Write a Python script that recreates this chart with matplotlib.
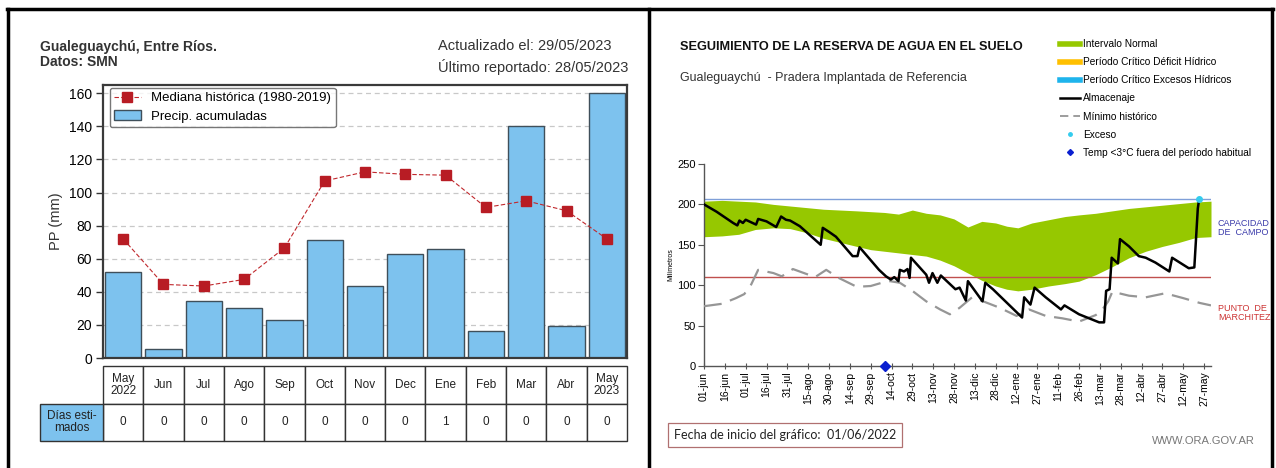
import matplotlib
matplotlib.use("Agg")
import matplotlib.pyplot as plt
from matplotlib.lines import Line2D
from matplotlib.patches import Rectangle

plt.rcParams["font.family"] = ["Liberation Sans", "DejaVu Sans"]

# ---- left panel data (monthly precipitation) ----
months = ["May\n2022", "Jun", "Jul", "Ago", "Sep", "Oct", "Nov", "Dec",
          "Ene", "Feb", "Mar", "Abr", "May\n2023"]
precip = [52, 5.5, 34.5, 30, 23, 71.5, 43.5, 63, 66, 16.5, 140.5, 19.5, 160]
mediana = [72, 44.5, 43.5, 47.5, 66.5, 107, 112.5, 111, 110.5, 91, 95, 89, 72]
dias_est = [0, 0, 0, 0, 0, 0, 0, 0, 1, 0, 0, 0, 0]

# ---- right panel data (soil water reserve, days since 01/06/2022) ----
date_ticks = ["01-jun", "16-jun", "01-jul", "16-jul", "31-jul", "15-ago", "30-ago",
              "14-sep", "29-sep", "14-oct", "29-oct", "13-nov", "28-nov", "13-dic",
              "28-dic", "12-ene", "27-ene", "11-feb", "26-feb", "13-mar", "28-mar",
              "12-abr", "27-abr", "12-may", "27-may"]
band_days = [0, 13, 25, 37, 50, 62, 74, 86, 98, 110, 120, 130, 140, 150, 160, 170, 180,
             190, 200, 210, 218, 226, 236, 248, 260, 270, 282, 294, 306, 318, 330, 342,
             354, 365]
band_high = [204, 205, 204, 203, 200, 198, 196, 194, 193, 192, 191, 190, 188, 193, 189,
             187, 182, 172, 179, 177, 173, 171, 177, 181, 185, 187, 189, 192, 195, 197,
             199, 201, 203, 204]
band_low = [160, 161, 163, 169, 171, 170, 165, 158, 153, 148, 144, 142, 140, 138, 136,
            131, 124, 115, 106, 99, 95, 93, 95, 99, 102, 105, 113, 123, 134, 142, 148,
            153, 159, 160]
min_days = [0, 13, 23, 29, 34, 39, 50, 56, 64, 72, 80, 88, 97, 110, 120, 128, 134, 141,
            150, 160, 170, 177, 184, 193, 201, 213, 225, 234, 246, 258, 270, 282, 286,
            291, 294, 306, 318, 332, 345, 357, 365]
min_hist = [74, 77, 84, 89, 101, 119, 115, 111, 120, 115, 110, 119, 109, 98, 99, 103, 105,
            103, 93, 80, 70, 64, 72, 85, 80, 72, 62, 70, 62, 59, 55, 63, 68, 80, 92, 87,
            85, 90, 84, 78, 75]
alm_days = [0, 9, 21, 24, 25.5, 28, 30, 37.5, 39, 45, 52, 55.5, 59, 62, 69, 84, 85.5, 90,
            95, 107, 110.5, 112, 119, 126, 131, 134.5, 137, 140, 141, 144, 146.5, 148, 149,
            160, 162, 164.5, 168, 170.5, 181, 184, 188.5, 190, 200.5, 202.5, 208, 217, 229,
            230.5, 235, 238, 246, 257, 259.5, 270, 284.5, 288, 289.5, 292, 293.5, 296, 298,
            299.5, 306, 313, 318, 325, 335, 337, 349, 353, 355.5, 356.5]
almacenaje = [200, 191, 177, 174, 180, 177, 181, 175, 182, 179, 172, 185, 181, 180, 173,
              150, 171, 166, 160, 136, 136, 147, 133, 119, 111, 107, 110, 105, 119, 117,
              120, 109, 134, 113, 103, 115, 103, 112, 95, 97, 81, 105, 80, 103, 95, 80, 60,
              85, 76, 97, 85, 70, 75, 64, 54, 54, 93, 95, 134, 130, 127, 157, 148, 136, 134,
              128, 117, 134, 121, 122, 195, 207]
capacidad = 207
marchitez = 110
exceso_day, exceso_val = 356.5, 207
temp_day, temp_val = 130, 0

W, H = 1276, 468
fig = plt.figure(figsize=(W / 100, H / 100), dpi=100)


def fx(px):
    return px / W


def fy(py):
    return 1 - py / H


# panel borders
for x0, x1, y0, y1 in [(7, 1273, 9, 9), (8, 8, 9, 470), (649, 649, 9, 470), (1272, 1272, 9, 470)]:
    fig.add_artist(Line2D([fx(x0), fx(x1)], [fy(y0), fy(y1)], color="black", lw=2.5))

# ================= left panel =================
bar_c = "#7DC2EE"
ax = fig.add_axes([fx(103), fy(358), fx(627) - fx(103), fy(85) - fy(358)])
x = list(range(len(months)))
ax.bar(x, precip, width=0.9, color=bar_c, edgecolor="#3f4f5a", linewidth=1.0, zorder=2,
       label="Precip. acumuladas")
ax.plot(x, mediana, color="#C0282D", ls=(0, (4, 2)), lw=0.8, marker="s", ms=6.5,
        mfc="#B81C24", mec="#B81C24", zorder=3, label="Mediana histórica (1980-2019)")
ax.set_xlim(-0.5, len(months) - 0.5)
ax.set_ylim(0, 165)
ax.set_yticks(range(0, 161, 20))
ax.set_xticks([])
ax.yaxis.grid(True, ls=(0, (4, 3)), color="#c8c8c8", lw=0.9, zorder=0)
ax.set_axisbelow(True)
ax.tick_params(axis="y", labelsize=10, length=5, width=1, color="#333", pad=3)
ax.set_ylabel("PP (mm)", fontsize=10.5, color="#333", labelpad=4)
for s in ax.spines.values():
    s.set_color("#3a3a3a")
    s.set_linewidth(1.6)
ax.legend(loc="upper left", fontsize=9.5, frameon=True, edgecolor="#555",
          fancybox=True, borderpad=0.35, labelspacing=0.45, handlelength=2.0,
          bbox_to_anchor=(0.0, 1.015))

fig.text(fx(40), fy(47), "Gualeguaychú, Entre Ríos.", fontsize=10, weight="bold",
         color="#333", va="center")
fig.text(fx(40), fy(62), "Datos: SMN", fontsize=10, weight="bold", color="#333", va="center")
fig.text(fx(438), fy(46), "Actualizado el: 29/05/2023", fontsize=10.5, color="#333", va="center")
fig.text(fx(438), fy(67), "Último reportado: 28/05/2023", fontsize=10.5, color="#333", va="center")

# table under the bars
tab = fig.add_axes([fx(103), fy(441), fx(627) - fx(103), fy(366) - fy(441)])
tab.set_xlim(-0.5, len(months) - 0.5)
tab.set_ylim(0, 2)
tab.axis("off")
for i, (m, d) in enumerate(zip(months, dias_est)):
    tab.add_patch(Rectangle((i - 0.5, 1), 1, 1, fc="white", ec="#333", lw=1.0, clip_on=False))
    tab.add_patch(Rectangle((i - 0.5, 0), 1, 1, fc="white", ec="#333", lw=1.0, clip_on=False))
    tab.text(i, 1.5, m, ha="center", va="center", fontsize=8.5, linespacing=0.95, color="#222")
    tab.text(i, 0.5, str(d), ha="center", va="center", fontsize=8.5, color="#222")
hw = 63 / ((627 - 103) / len(months))
tab.add_patch(Rectangle((-0.5 - hw, 0), hw, 1, fc=bar_c, ec="#333", lw=1.0, clip_on=False))
tab.text(-0.5 - hw / 2, 0.5, "Días esti-\nmados", ha="center", va="center", fontsize=8.5,
         linespacing=0.95, color="#222")

# ================= right panel =================
green = "#96C800"
ax2 = fig.add_axes([fx(704), fy(366), fx(1211) - fx(704), fy(164) - fy(366)])
ax2.fill_between(band_days, band_low, band_high, color=green, lw=0, zorder=1)
ax2.axhline(capacidad, color="#7F9FD8", lw=1.0, zorder=2)
ax2.axhline(marchitez, color="#C0504D", lw=1.0, zorder=2)
ax2.plot(min_days, min_hist, color="#969696", lw=1.6, ls=(0, (8, 4)), zorder=3)
ax2.plot(alm_days, almacenaje, color="black", lw=1.8, zorder=4)
ax2.plot([exceso_day], [exceso_val], "o", color="#33CCEE", ms=4, zorder=5)
ax2.plot([temp_day], [temp_val], "D", color="#0A1FD0", ms=5, zorder=5, clip_on=False)
ax2.set_xlim(0, 365)
ax2.set_ylim(0, 250)
ax2.set_yticks(range(0, 251, 50))
ax2.set_xticks(range(0, 361, 15))
ax2.set_xticklabels(date_ticks, rotation=90)
ax2.tick_params(axis="y", labelsize=8, length=4, color="#555", pad=2)
ax2.tick_params(axis="x", labelsize=7.5, length=4, color="#555", pad=2, direction="inout")
for s in ["top", "right"]:
    ax2.spines[s].set_visible(False)
for s in ["left", "bottom"]:
    ax2.spines[s].set_color("#555")
    ax2.spines[s].set_linewidth(1.0)
ax2.set_ylabel("Milímetros", fontsize=5, labelpad=2)

fig.text(fx(680), fy(47), "SEGUIMIENTO DE LA RESERVA DE AGUA EN EL SUELO", fontsize=9.2,
         weight="bold", color="#111", va="center")
fig.text(fx(680), fy(78), "Gualeguaychú  - Pradera Implantada de Referencia", fontsize=9,
         color="#333", va="center")
fig.text(fx(1218), fy(228), "CAPACIDAD\nDE  CAMPO", fontsize=6.5, color="#3A3AAA",
         va="center", linespacing=1.1)
fig.text(fx(1218), fy(313), "PUNTO  DE\nMARCHITEZ", fontsize=6.5, color="#CC3333",
         va="center", linespacing=1.1)
fig.text(fx(674), fy(435), "Fecha de inicio del gráfico:  01/06/2022", fontsize=9,
         family=["Lato", "DejaVu Sans"], color="#222", va="center",
         bbox=dict(boxstyle="square,pad=0.45", fc="white", ec="#B07070", lw=0.9))
fig.text(fx(1255), fy(441), "WWW.ORA.GOV.AR", fontsize=8, color="#777", ha="right",
         va="center")

handles = [
    Line2D([], [], color=green, lw=4),
    Line2D([], [], color="#FFC000", lw=4),
    Line2D([], [], color="#1EB4EC", lw=4),
    Line2D([], [], color="black", lw=1.8),
    Line2D([], [], color="#8c8c8c", lw=1.2, ls=(0, (5, 3))),
    Line2D([], [], color="#33CCEE", marker="o", ls="none", ms=2.5),
    Line2D([], [], color="#0A1FD0", marker="D", ls="none", ms=3),
]
labels = ["Intervalo Normal", "Período Crítico Déficit Hídrico",
          "Período Crítico Excesos Hídricos", "Almacenaje", "Mínimo histórico", "Exceso",
          "Temp <3°C fuera del período habitual"]
fig.legend(handles, labels, loc="upper left", bbox_to_anchor=(fx(1056), fy(35)),
           frameon=False, labelspacing=0.8, handlelength=2.0,
           handletextpad=0.3, borderaxespad=0, prop={"size": 7.3})

fig.savefig("out.png", dpi=100)
